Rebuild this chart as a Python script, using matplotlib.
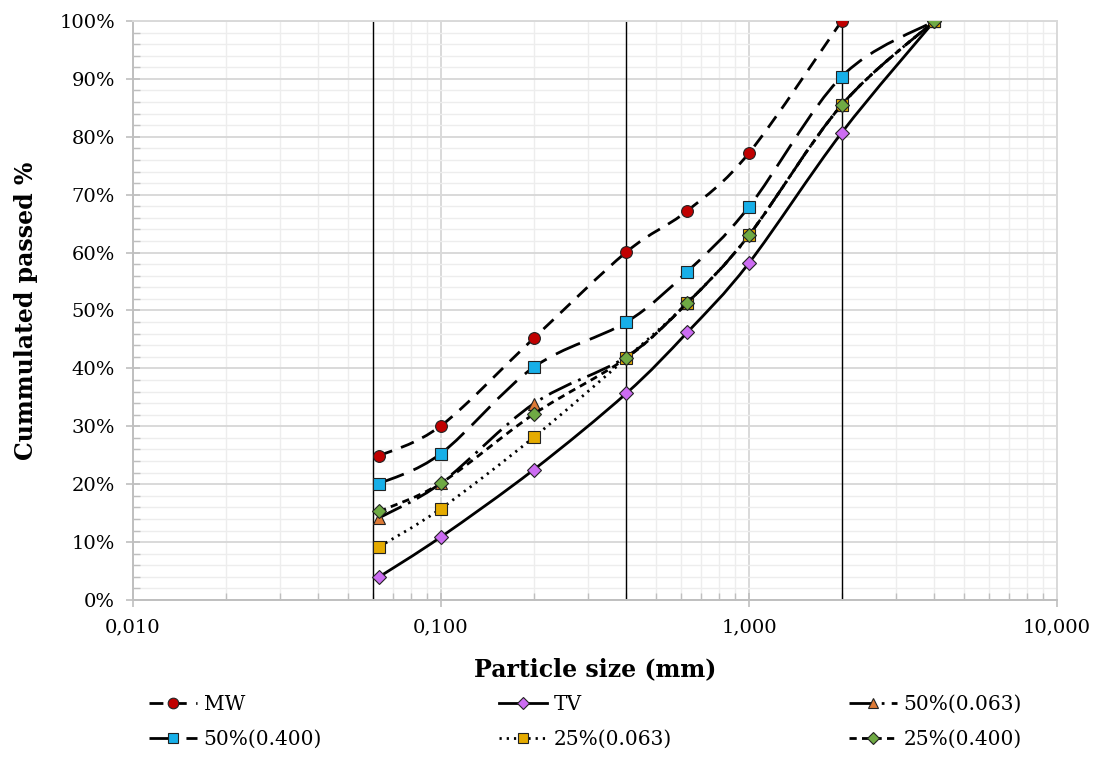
import numpy as np
import matplotlib.pyplot as plt
from matplotlib.path import Path
from matplotlib.patches import PathPatch
from matplotlib.lines import Line2D
from matplotlib.ticker import FixedLocator, FuncFormatter, MultipleLocator

## Data

sizes = [0.063, 0.1, 0.2, 0.4, 0.63, 1.0, 2.0, 4.0]

mw = [24.9, 30.1, 45.2, 60.1, 67.2, 77.2, 100.0]          # no point at 4.0
tv = [4.0, 10.9, 22.5, 35.7, 46.2, 58.2, 80.7, 100.0]
p50_063 = [14.2, 20.2, 33.9, 42.0, 51.3, 63.0, 85.5, 100.0]
p50_400 = [20.1, 25.3, 40.2, 48.0, 56.7, 67.9, 90.4, 100.0]
p25_063 = [9.2, 15.8, 28.1, 41.8, 51.3, 63.0, 85.5, 100.0]
p25_400 = [15.3, 20.2, 32.1, 41.8, 51.3, 63.0, 85.5, 100.0]

labels = ["MW", "TV", "50%(0.063)", "50%(0.400)", "25%(0.063)", "25%(0.400)"]
sieve_lines = [0.06, 0.4, 2.0]

x_ticks = [0.01, 0.1, 1.0, 10.0]
x_ticklabels = ["0,010", "0,100", "1,000", "10,000"]

plt.rcParams['font.family'] = ['DejaVu Serif']


def smooth_path(xs, ys):
    """ Excel-like smoothed line as cubic bezier, built in log-x space """
    lx = np.log10(xs)
    ys = np.asarray(ys, dtype=float)
    n = len(lx)
    verts = [(xs[0], ys[0])]
    codes = [Path.MOVETO]
    for i in range(n - 1):
        i0 = max(i - 1, 0)
        i3 = min(i + 2, n - 1)
        c1x = lx[i] + (lx[i + 1] - lx[i0]) / 6
        c1y = ys[i] + (ys[i + 1] - ys[i0]) / 6
        c2x = lx[i + 1] - (lx[i3] - lx[i]) / 6
        c2y = ys[i + 1] - (ys[i3] - ys[i]) / 6
        verts += [(10 ** c1x, c1y), (10 ** c2x, c2y), (xs[i + 1], ys[i + 1])]
        codes += [Path.CURVE4] * 3
    return Path(verts, codes)


fig = plt.figure(figsize=(11.01, 7.74), dpi=100)
ax = fig.add_axes([0.1208, 0.2248, 0.8392, 0.7481])

ax.set_xscale("log")
ax.set_xlim(0.01, 10)
ax.set_ylim(0, 100)

# series styles
styles = [
    dict(data=mw, ls=(0, (5, 3.4)), marker="o", mfc="#c00000", ms=8.5),
    dict(data=tv, ls="-", marker="D", mfc="#cc6cf2", ms=7),
    dict(data=p50_063, ls=(0, (9, 2.6, 1, 2.6)), marker="^", mfc="#dd7a36", ms=8.5),
    dict(data=p50_400, ls=(0, (9.5, 3.8)), marker="s", mfc="#17afe8", ms=8.5),
    dict(data=p25_063, ls=(0, (0.8, 1.8)), marker="s", mfc="#e5ab00", ms=8.5),
    dict(data=p25_400, ls=(0, (2.6, 1.9)), marker="D", mfc="#6faa44", ms=7),
]

handles = []
for k, st in enumerate(styles):
    ys = st["data"]
    xs = sizes[:len(ys)]
    patch = PathPatch(smooth_path(xs, ys), fill=False, edgecolor="black",
                      lw=2.0, linestyle=st["ls"], zorder=3 + 2 * k,
                      capstyle="butt")
    ax.add_patch(patch)
    ax.plot(xs, ys, linestyle="none", marker=st["marker"], ms=st["ms"],
            mfc=st["mfc"], mec="#222222", mew=0.8, zorder=4 + 2 * k)
    handles.append(Line2D([], [], color="black", lw=2.0, linestyle=st["ls"],
                          marker=st["marker"], ms=st["ms"] * 0.9, mfc=st["mfc"],
                          mec="#222222", mew=0.8, label=labels[k]))

for xv in sieve_lines:
    ax.axvline(xv, color="black", lw=1.0, zorder=2)

# grid like Excel
ax.yaxis.set_major_locator(MultipleLocator(10))
ax.yaxis.set_minor_locator(MultipleLocator(2))
ax.xaxis.set_major_locator(FixedLocator(x_ticks))
ax.xaxis.set_minor_locator(FixedLocator(
    [m * 10.0 ** e for e in range(-2, 1) for m in range(2, 10)]))
ax.grid(which="major", color="#d9d9d9", lw=1.4, zorder=0)
ax.grid(which="minor", color="#ededed", lw=1.0, zorder=0)
ax.set_axisbelow(True)

ax.set_xticks(x_ticks)
ax.set_xticklabels(x_ticklabels)
ax.yaxis.set_major_formatter(FuncFormatter(lambda v, p: "%d%%" % v))
ax.tick_params(which="major", direction="inout", length=10, width=1.2,
               color="#bfbfbf", labelsize=14, pad=8)
ax.tick_params(which="minor", direction="in", length=5, width=1.0,
               color="#bfbfbf")

for s in ["left", "bottom"]:
    ax.spines[s].set_color("#bfbfbf")
    ax.spines[s].set_linewidth(1.4)
for s in ["top", "right"]:
    ax.spines[s].set_color("#d9d9d9")
    ax.spines[s].set_linewidth(1.4)

ax.set_xlabel("Particle size (mm)", fontsize=17, fontweight="bold", labelpad=15)
ax.set_ylabel("Cummulated passed %", fontsize=17, fontweight="bold", labelpad=15)

# legend: row-major order with ncol=3
order = [0, 3, 1, 4, 2, 5]
fig.legend([handles[i] for i in order], [labels[i] for i in order],
           loc="upper left", bbox_to_anchor=(0.119, 0.126),
           ncol=3, frameon=False, fontsize=14.5,
           handlelength=2.4, handletextpad=0.3, labelspacing=0.8,
           columnspacing=8.8)

plt.savefig("out.png", dpi=100)
